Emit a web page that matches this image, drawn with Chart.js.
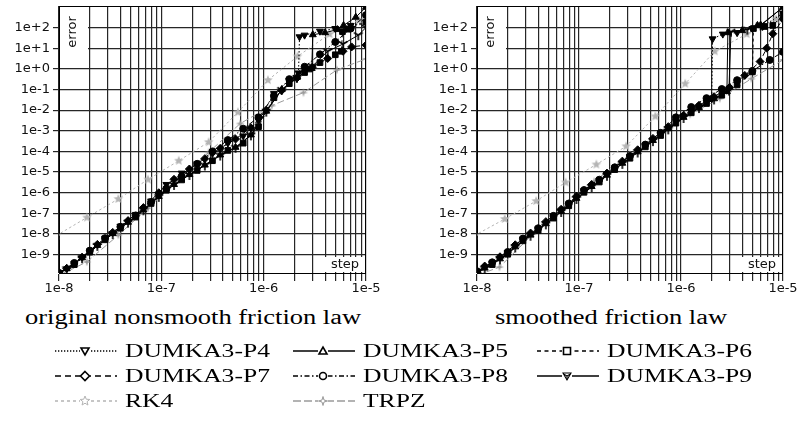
<!DOCTYPE html>
<html>
<head>
<meta charset="utf-8">
<title>DUMKA3 error vs step</title>
<script src="https://cdn.jsdelivr.net/npm/chart.js@4.4.1/dist/chart.umd.min.js"></script>
<style>
  html, body { margin: 0; padding: 0; background: #fff; }
  #page { position: relative; width: 797px; height: 429px; overflow: hidden; }
  .plot { position: absolute; top: 0; }
  .serif { position: absolute; white-space: nowrap; font-family: "Liberation Serif", "DejaVu Serif", serif; color: #000; line-height: 1; transform-origin: 0 0; }
  #legendSamples { position: absolute; left: 0; top: 335px; }
</style>
</head>
<body>
<div id="page">
  <canvas id="origChart" class="plot" width="400" height="300" style="left:0;width:400px;height:300px"></canvas>
  <canvas id="smoothChart" class="plot" width="397" height="300" style="left:400px;width:397px;height:300px"></canvas>
  <div class="serif" id="origTitle" style="left:25px;top:307px;font-size:20px">original nonsmooth friction law</div>
  <div class="serif" id="smoothTitle" style="left:495px;top:307px;font-size:20px">smoothed friction law</div>
  <canvas id="legendSamples" width="797" height="80"></canvas>
</div>
<script>
// step sizes used by the DUMKA3 runs
var stepsA = [1e-8, 1.41e-8, 2e-8, 2.82e-8, 3.98e-8, 5.62e-8, 7.94e-8, 1.12e-7, 1.58e-7, 2.24e-7, 3.16e-7,
              4.47e-7, 6.31e-7, 8.91e-7, 1.26e-6, 1.78e-6, 2.51e-6, 3.55e-6, 5.01e-6, 7.08e-6, 1e-5];
var stepsB = [1.19e-8, 1.68e-8, 2.37e-8, 3.35e-8, 4.73e-8, 6.68e-8, 9.44e-8, 1.33e-7, 1.88e-7, 2.66e-7,
              3.76e-7, 5.31e-7, 7.5e-7, 1.06e-6, 1.5e-6, 2.11e-6, 2.99e-6, 4.22e-6, 5.96e-6, 8.41e-6];

var seriesNames = ['DUMKA3-P4', 'DUMKA3-P5', 'DUMKA3-P6', 'DUMKA3-P7', 'DUMKA3-P8', 'DUMKA3-P9', 'RK4', 'TRPZ'];

// --- original nonsmooth friction law ---
var origStepP4 = stepsA.slice(0, 16).concat([2.19e-6, 2.24e-6, 2.51e-6, 3.55e-6, 5.01e-6, 7.08e-6, 1e-5]);
var origErrP4 = [1.26e-10, 3.8e-10, 1.51e-9, 6.31e-9, 2.4e-8, 8.91e-8, 3.98e-7, 2.51e-6, 8.91e-6, 2.51e-5, 7.94e-5,
                 2.51e-4, 5.62e-4, 3.16e-3, 6.31e-2, 0.282, 0.631, 35.5, 42.7, 66.1, 89.1, 126, 178];
var origStepP5 = [1e-8].concat(stepsB.slice(0, 16), [2.75e-6, 2.95e-6, 3.02e-6, 3.98e-6, 5.25e-6, 6.03e-6, 7.94e-6, 1e-5]);
var origErrP5 = [1.32e-10, 2.09e-10, 7.08e-10, 2.82e-9, 1.05e-8, 3.72e-8, 1.48e-7, 6.61e-7, 2.51e-6, 7.59e-6, 2.19e-5,
                 6.76e-5, 1.58e-4, 6.31e-4, 8.91e-3, 0.1, 0.38, 0.891, 1.05, 44.7, 56.2, 79.4, 126, 316, 955];
var origStepP6 = stepsA.slice(0, 19).concat([5.75e-6, 5.89e-6, 6.61e-6, 1e-5]);
var origErrP6 = [1.2e-10, 3.31e-10, 1.32e-9, 5.25e-9, 1.91e-8, 6.61e-8, 3.02e-7, 1.32e-6, 4.17e-6, 1.2e-5, 3.55e-5,
                 1.12e-4, 2.51e-4, 1.58e-3, 3.98e-2, 0.191, 0.661, 2.0, 4.79, 7.08, 63.1, 83.2, 182];
var origStepP7 = [1e-8].concat(stepsB.slice(0, 19), [7.24e-6, 1e-5]);
var origErrP7 = [1.26e-10, 2.19e-10, 7.59e-10, 3.16e-9, 1.2e-8, 4.47e-8, 1.91e-7, 1e-6, 4.47e-6, 1.41e-5, 4.47e-5,
                 1.41e-4, 3.98e-4, 1.41e-3, 1e-2, 8.91e-2, 0.355, 1.2, 3.16, 7.08, 11.5, 14.1];
var origStepP8 = stepsA.slice();
var origErrP8 = [1.32e-10, 3.98e-10, 1.58e-9, 6.31e-9, 2.24e-8, 7.94e-8, 3.55e-7, 1.58e-6, 6.31e-6, 2.51e-5, 1e-4,
                 3.55e-4, 1.26e-3, 4.47e-3, 5.01e-2, 0.316, 1.26, 5.01, 20, 89.1, 398];
var origStepP9 = [1e-8].concat(stepsB, [1e-5]);
var origErrP9 = [1.26e-10, 2.0e-10, 6.76e-10, 2.69e-9, 1e-8, 3.55e-8, 1.41e-7, 6.31e-7, 2.4e-6, 7.24e-6, 2.09e-5,
                 6.31e-5, 1.51e-4, 6.03e-4, 8.51e-3, 9.55e-2, 0.363, 1.32, 7.08, 15.8, 42.7, 100];
var rk4Steps = [9.4e-9, 1.87e-8, 3.8e-8, 7.4e-8, 1.48e-7, 2.9e-7, 5.6e-7, 1.1e-6, 2.14e-6, 4.4e-6, 8.5e-6, 1.12e-5];
var origErrRK4 = [8.32e-9, 6.31e-8, 5.01e-7, 4.37e-6, 3.55e-5, 2.82e-4, 7.94e-3, 0.282, 3.98, 47.9, 229, 501];
var origStepTRPZ = [1e-8, 1.87e-8, 3.8e-8, 7.4e-8, 1.48e-7, 2.9e-7, 5.9e-7, 1.2e-6, 2.45e-6, 5.2e-6, 1e-5];
var origErrTRPZ = [1e-10, 4.47e-10, 8.91e-9, 1.78e-7, 4.47e-6, 8.91e-5, 2.24e-3, 1.66e-2, 7.08e-2, 0.891, 3.02];

// --- smoothed friction law ---
var smoothStepP4 = stepsA.slice(0, 16).concat([2e-6, 2.04e-6, 2.57e-6, 3.55e-6, 5.01e-6, 6.31e-6, 1e-5]);
var smoothErrP4 = [1.41e-10, 3.98e-10, 1.26e-9, 5.62e-9, 1.78e-8, 7.08e-8, 2.82e-7, 1.26e-6, 3.98e-6, 1.58e-5, 5.62e-5,
                   2e-4, 7.08e-4, 2.82e-3, 8.91e-3, 2.51e-2, 3.55e-2, 28.2, 47.9, 56.2, 89.1, 112, 501];
var smoothStepP5 = [1e-8].concat(stepsB.slice(0, 16), [2.82e-6, 2.88e-6, 3.98e-6, 5.62e-6, 6.03e-6, 1e-5]);
var smoothErrP5 = [1.41e-10, 2.24e-10, 6.31e-10, 2.4e-9, 8.91e-9, 3.16e-8, 1.26e-7, 5.37e-7, 2e-6, 7.08e-6, 2.69e-5,
                   9.55e-5, 3.39e-4, 1.26e-3, 4.47e-3, 1.35e-2, 3.55e-2, 7.94e-2, 56.2, 70.8, 126, 132, 955];
var smoothStepP6 = stepsA.slice(0, 19).concat([5.13e-6, 6.61e-6, 7.94e-6, 1e-5]);
var smoothErrP6 = [1.32e-10, 3.31e-10, 1.05e-9, 4.68e-9, 1.48e-8, 5.89e-8, 2.34e-7, 1.05e-6, 3.31e-6, 1.32e-5, 4.68e-5,
                   1.66e-4, 5.89e-4, 2.34e-3, 7.41e-3, 2.09e-2, 5.25e-2, 0.166, 0.708, 89.1, 112, 126, 398];
var smoothStepP7 = [1e-8].concat(stepsB.slice(0, 18), [5.96e-6, 6.92e-6, 7.94e-6, 1e-5]);
var smoothErrP7 = [1.35e-10, 2.82e-10, 7.94e-10, 3.02e-9, 1.12e-8, 3.98e-8, 1.58e-7, 6.76e-7, 2.51e-6, 8.91e-6, 3.39e-5,
                   1.2e-4, 4.27e-4, 1.58e-3, 5.62e-3, 1.7e-2, 4.47e-2, 0.126, 0.479, 2.24, 10, 50.1, 251];
var smoothStepP8 = stepsA.slice(0, 19).concat([7.41e-6, 1e-5]);
var smoothErrP8 = [1.58e-10, 4.27e-10, 1.35e-9, 6.03e-9, 1.91e-8, 7.59e-8, 3.02e-7, 1.35e-6, 4.27e-6, 1.7e-5, 6.03e-5,
                   2.14e-4, 7.94e-4, 4.47e-3, 1.41e-2, 3.8e-2, 0.105, 0.282, 0.794, 2.69, 6.61];
var smoothStepP9 = [1e-8].concat(stepsB.slice(0, 16), [2.95e-6, 3.09e-6, 4.47e-6, 6.03e-6, 1e-5]);
var smoothErrP9 = [1.41e-10, 2.09e-10, 5.89e-10, 2.24e-9, 8.32e-9, 2.95e-8, 1.17e-7, 5.01e-7, 1.86e-6, 6.61e-6, 2.51e-5,
                   8.91e-5, 3.16e-4, 1.17e-3, 4.17e-3, 1.26e-2, 3.31e-2, 8.91e-2, 63.1, 79.4, 126, 955];
var smoothErrRK4 = [8.32e-9, 5.37e-8, 3.98e-7, 3.16e-6, 2.34e-5, 1.78e-4, 5.01e-3, 0.191, 7.08, 47.9, 251, 562];
var smoothStepTRPZ = [1e-8, 1.66e-8, 3.55e-8, 7.1e-8, 1.41e-7, 3.16e-7, 7.24e-7, 1.23e-6, 2.4e-6, 4.9e-6, 1e-5];
var smoothErrTRPZ = [1e-10, 2.51e-10, 1e-8, 1.78e-7, 3.55e-6, 7.08e-5, 1.17e-3, 6.31e-3, 3.63e-2, 0.331, 2.69];

// axis ticks
var xTickVals = [1e-8, 1e-7, 1e-6, 1e-5];
var xTickLabels = ['1e-8', '1e-7', '1e-6', '1e-5'];
var yTickVals = [1e-9, 1e-8, 1e-7, 1e-6, 1e-5, 1e-4, 1e-3, 1e-2, 1e-1, 1, 10, 100];
var yTickLabels = ['1e-9', '1e-8', '1e-7', '1e-6', '1e-5', '1e-4', '1e-3', '1e-2', '1e-1', '1e+0', '1e+1', '1e+2'];
var yMin = 1.3e-10, yMax = 1.1e3;

// ---- markers ----
function markerImage(size, draw) {
    var c = document.createElement('canvas');
    c.width = size;
    c.height = size;
    draw(c.getContext('2d'), size / 2);
    return c;
}
function starPath(g, cx, cy, rOut, rIn, n) {
    g.beginPath();
    for (var i = 0; i < n * 2; i++) {
        var r = i % 2 ? rIn : rOut;
        var a = -Math.PI / 2 + i * Math.PI / n;
        g.lineTo(cx + r * Math.cos(a), cy + r * Math.sin(a));
    }
    g.closePath();
}
function triDown(g, cx, cy, r) {
    g.beginPath();
    g.moveTo(cx, cy); g.lineTo(cx, cy + r);
    g.moveTo(cx, cy); g.lineTo(cx - r * 0.87, cy - r * 0.5);
    g.moveTo(cx, cy); g.lineTo(cx + r * 0.87, cy - r * 0.5);
    g.stroke();
}
var triMark = markerImage(12, function (g, c) {
    g.strokeStyle = '#000'; g.lineWidth = 1.6; triDown(g, c, c, 5);
});
var rk4Mark = markerImage(12, function (g, c) {
    starPath(g, c, c, 5, 2.2, 5); g.fillStyle = '#b4b4b4'; g.fill();
});
var trpzMark = markerImage(12, function (g, c) {
    starPath(g, c, c, 4.5, 1.4, 4); g.fillStyle = '#9a9a9a'; g.fill();
});

var seriesStyles = [
    {borderColor: '#000', borderDash: [1.5, 2], pointStyle: 'triangle', pointRotation: 180, pointRadius: 4},
    {borderColor: '#000', borderDash: [], pointStyle: 'triangle', pointRadius: 4},
    {borderColor: '#000', borderDash: [3, 3], pointStyle: 'rect', pointRadius: 4},
    {borderColor: '#000', borderDash: [5, 3], pointStyle: 'rectRot', pointRadius: 4},
    {borderColor: '#000', borderDash: [6, 2, 1.5, 2], pointStyle: 'circle', pointRadius: 3.5},
    {borderColor: '#000', borderDash: [], pointStyle: triMark, pointRadius: 5},
    {borderColor: '#b4b4b4', borderDash: [2.5, 2.5], pointStyle: rk4Mark, pointRadius: 5},
    {borderColor: '#9a9a9a', borderDash: [7, 3], pointStyle: trpzMark, pointRadius: 5}
];

function dataset(i, steps, errs) {
    var s = seriesStyles[i];
    return {
        label: seriesNames[i],
        data: steps.map(function (h, k) { return {x: h, y: errs[k]}; }),
        borderColor: s.borderColor,
        borderDash: s.borderDash,
        borderWidth: 1,
        tension: 0,
        fill: false,
        pointStyle: s.pointStyle,
        pointRotation: s.pointRotation || 0,
        pointRadius: s.pointRadius,
        pointBackgroundColor: s.borderColor,
        pointBorderColor: s.borderColor,
        pointBorderWidth: 1
    };
}

function labelFor(vals, labels, v) {
    for (var i = 0; i < vals.length; i++) {
        if (Math.abs(vals[i] - v) / vals[i] < 1e-6) return labels[i];
    }
    return '';
}

// "error" / "step" notes in the corners and the frame
var cornerNotes = {
    id: 'cornerNotes',
    beforeDatasetsDraw: function (chart) {
        var ctx = chart.ctx, a = chart.chartArea;
        ctx.save();
        ctx.fillStyle = '#fff';
        ctx.fillRect(a.left + 1, a.top + 1, 28, 51);
        ctx.fillRect(a.right - 41, a.bottom - 16, 40, 15);
        ctx.fillStyle = '#111';
        ctx.font = '13px "DejaVu Sans"';
        ctx.textAlign = 'center';
        ctx.textBaseline = 'middle';
        ctx.fillText('step', a.right - 21, a.bottom - 8);
        ctx.translate(a.left + 14, a.top + 26);
        ctx.rotate(-Math.PI / 2);
        ctx.fillText('error', 0, 0);
        ctx.restore();
    },
    afterDraw: function (chart) {
        var ctx = chart.ctx, a = chart.chartArea;
        ctx.save();
        ctx.strokeStyle = '#000';
        ctx.lineWidth = 1;
        ctx.beginPath();
        ctx.moveTo(a.left, Math.round(a.top) + 0.5);
        ctx.lineTo(a.right, Math.round(a.top) + 0.5);
        ctx.moveTo(Math.round(a.right) - 0.5, a.top);
        ctx.lineTo(Math.round(a.right) - 0.5, a.bottom);
        ctx.stroke();
        ctx.restore();
    }
};

function makeChart(id, datasets, axisWidth, padRight) {
    var tickFont = {family: 'DejaVu Sans', size: 13};
    return new Chart(document.getElementById(id), {
        type: 'line',
        data: {datasets: datasets},
        plugins: [cornerNotes],
        options: {
            responsive: false,
            animation: false,
            events: [],
            devicePixelRatio: 1,
            layout: {padding: {left: 0, top: 4, right: padRight, bottom: 0}},
            plugins: {legend: {display: false}, tooltip: {enabled: false}},
            scales: {
                x: {
                    type: 'logarithmic',
                    min: 1e-8,
                    max: 1e-5,
                    afterBuildTicks: function (scale) {
                        var ticks = [];
                        xTickVals.forEach(function (d, i) {
                            if (i === xTickVals.length - 1) { ticks.push({value: d}); return; }
                            for (var m = 1; m < 10; m++) ticks.push({value: d * m});
                        });
                        scale.ticks = ticks;
                    },
                    afterFit: function (scale) {
                        scale.height = 27;
                        scale.paddingLeft = 0;
                        scale.paddingRight = 0;
                    },
                    ticks: {
                        autoSkip: false, maxRotation: 0, padding: 0, color: '#111', font: tickFont,
                        callback: function (v) { return labelFor(xTickVals, xTickLabels, v); }
                    },
                    grid: {color: '#262626', lineWidth: 1.2, tickLength: 8},
                    border: {color: '#000', width: 1}
                },
                y: {
                    type: 'logarithmic',
                    min: yMin,
                    max: yMax,
                    afterBuildTicks: function (scale) {
                        scale.ticks = yTickVals.map(function (v) { return {value: v}; });
                    },
                    afterFit: function (scale) {
                        scale.width = axisWidth;
                        scale.paddingTop = 0;
                        scale.paddingBottom = 0;
                    },
                    ticks: {
                        autoSkip: false, padding: 3, color: '#111', font: tickFont,
                        callback: function (v) { return labelFor(yTickVals, yTickLabels, v); }
                    },
                    grid: {color: '#262626', lineWidth: 1.2, tickLength: 6},
                    border: {color: '#000', width: 1}
                }
            }
        }
    });
}

makeChart('origChart', [
    dataset(0, origStepP4, origErrP4),
    dataset(1, origStepP5, origErrP5),
    dataset(2, origStepP6, origErrP6),
    dataset(3, origStepP7, origErrP7),
    dataset(4, origStepP8, origErrP8),
    dataset(5, origStepP9, origErrP9),
    dataset(6, rk4Steps, origErrRK4),
    dataset(7, origStepTRPZ, origErrTRPZ)
], 59, 34);

makeChart('smoothChart', [
    dataset(0, smoothStepP4, smoothErrP4),
    dataset(1, smoothStepP5, smoothErrP5),
    dataset(2, smoothStepP6, smoothErrP6),
    dataset(3, smoothStepP7, smoothErrP7),
    dataset(4, smoothStepP8, smoothErrP8),
    dataset(5, smoothStepP9, smoothErrP9),
    dataset(6, rk4Steps, smoothErrRK4),
    dataset(7, smoothStepTRPZ, smoothErrTRPZ)
], 77, 14);

// ---- legend below the plots ----
var legendSpots = [[55, 16], [293, 16], [537, 16], [55, 41], [293, 41], [537, 41], [55, 66], [293, 66]];
var legendDash = [[1.3, 1.7], [], [4, 3.5], [6, 4], [5, 2.5, 1.5, 2.5], [], [3, 3], [8, 3]];
var sampleLen = 62;

function drawSample(g, i, x, y) {
    var s = seriesStyles[i];
    var gray = i >= 6;
    var col = gray ? s.borderColor : '#000';
    g.save();
    g.strokeStyle = col;
    g.lineWidth = gray ? 1.4 : 1.7;
    g.setLineDash(legendDash[i]);
    g.beginPath();
    g.moveTo(x, y);
    g.lineTo(x + sampleLen, y);
    g.stroke();
    g.setLineDash([]);
    var cx = x + 30, r = 4;
    g.fillStyle = '#fff';
    g.lineWidth = 1.6;
    g.beginPath();
    if (i === 0) { g.moveTo(cx - r, y - 3); g.lineTo(cx + r, y - 3); g.lineTo(cx, y + 4); g.closePath(); }
    else if (i === 1) { g.moveTo(cx - r, y + 3); g.lineTo(cx + r, y + 3); g.lineTo(cx, y - 4); g.closePath(); }
    else if (i === 2) { g.rect(cx - 3.5, y - 3.5, 7, 7); }
    else if (i === 3) { g.moveTo(cx, y - 4.5); g.lineTo(cx + 4.5, y); g.lineTo(cx, y + 4.5); g.lineTo(cx - 4.5, y); g.closePath(); }
    else if (i === 4) { g.arc(cx, y, 3.5, 0, Math.PI * 2); }
    if (i <= 4) {
        g.fillRect(cx - 5, y - 5, 10, 10);
        g.fill();
        g.stroke();
    } else if (i === 5) {
        g.fillRect(cx - 5, y - 5, 10, 10);
        g.lineWidth = 1.1;
        g.beginPath();
        g.moveTo(cx - 4, y - 3); g.lineTo(cx + 4, y - 3); g.lineTo(cx, y + 4); g.closePath();
        g.stroke();
        triDown(g, cx, y, 3.5);
    } else {
        g.fillRect(cx - 5, y - 5, 10, 10);
        starPath(g, cx, y, i === 6 ? 5 : 4.5, i === 6 ? 2.2 : 1.4, i === 6 ? 5 : 4);
        g.lineWidth = 1;
        g.fill();
        g.stroke();
    }
    g.restore();
}

var lg = document.getElementById('legendSamples').getContext('2d');
var page = document.getElementById('page');
var legendTexts = [];
legendSpots.forEach(function (p, i) {
    drawSample(lg, i, p[0], p[1]);
    var span = document.createElement('div');
    span.className = 'serif';
    span.textContent = seriesNames[i];
    span.style.fontSize = '19px';
    span.style.left = (p[0] + 70) + 'px';
    span.style.top = (335 + p[1] - 9.6) + 'px';
    page.appendChild(span);
    legendTexts.push(span);
});

function fitTexts() {
    var k = 145 / legendTexts[0].getBoundingClientRect().width;
    legendTexts.forEach(function (el) { el.style.transform = 'scaleX(' + k.toFixed(3) + ')'; });
    [['origTitle', 336], ['smoothTitle', 232]].forEach(function (t) {
        var el = document.getElementById(t[0]);
        el.style.transform = 'none';
        var w = el.getBoundingClientRect().width;
        el.style.transform = 'scaleX(' + (t[1] / w).toFixed(3) + ')';
    });
}
legendTexts[0].style.transform = 'none';
fitTexts();
if (document.fonts && document.fonts.ready) {
    document.fonts.ready.then(function () {
        legendTexts.forEach(function (el) { el.style.transform = 'none'; });
        fitTexts();
    });
}
</script>
</body>
</html>
